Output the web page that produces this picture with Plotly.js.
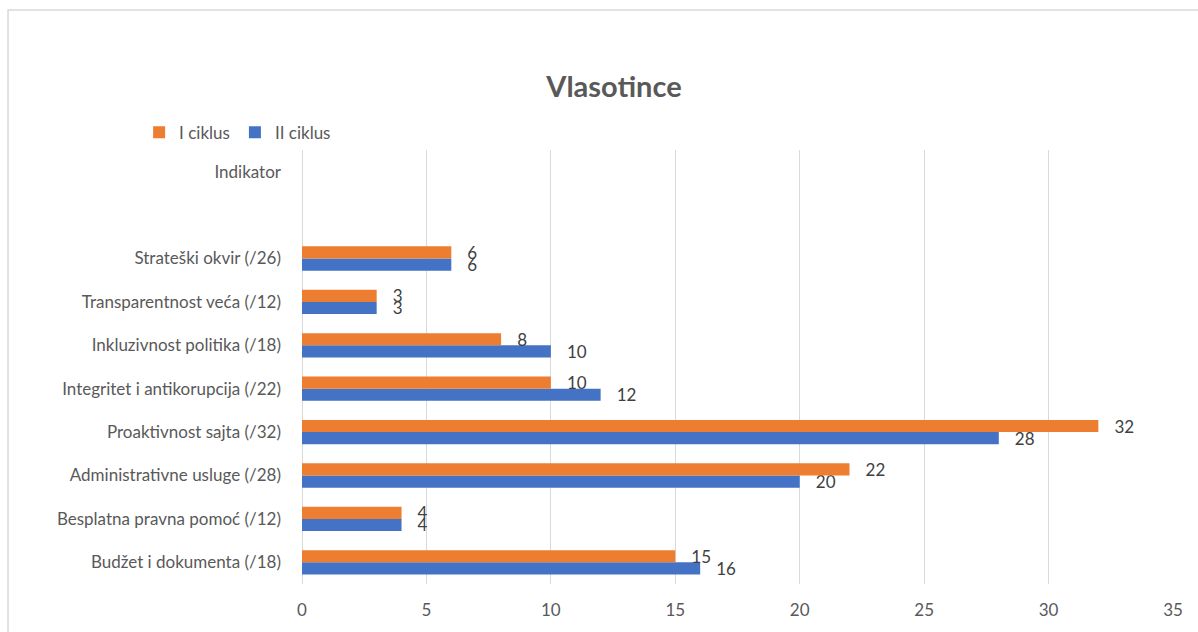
<!DOCTYPE html>
<html>
<head>
<meta charset="utf-8">
<script src="https://cdn.plot.ly/plotly-3.0.1.min.js"></script>
<style>
html,body{margin:0;padding:0;background:#fff;}
#chart{width:1198px;height:632px;}
</style>
</head>
<body>
<div id="chart"></div>
<script>
const categories = [
  "Budžet i dokumenta (/18)",
  "Besplatna pravna pomoć (/12)",
  "Administrativne usluge (/28)",
  "Proaktivnost sajta (/32)",
  "Integritet i antikorupcija (/22)",
  "Inkluzivnost politika (/18)",
  "Transparentnost veća (/12)",
  "Strateški okvir (/26)",
  " ",
  "Indikator"
];
const ciklus1 = [15, 4, 22, 32, 10, 8, 3, 6, null, null];
const ciklus2 = [16, 4, 20, 28, 12, 10, 3, 6, null, null];
const xTicks = [0, 5, 10, 15, 20, 25, 30, 35];

const FONT = "Lato, 'Open Sans', sans-serif";
const labelFont = {family: FONT, size: 17, color: "#404040"};
const pad = "\u00a0\u00a0\u00a0";

const traces = [
  {
    type: "bar", orientation: "h", name: "II ciklus",
    y: categories, x: ciklus2,
    marker: {color: "#4472C4"},
    text: ciklus2.map(v => v == null ? "" : pad + String(v)),
    textposition: "outside", textfont: labelFont, cliponaxis: false,
    constraintext: "none",
    legendrank: 2, hoverinfo: "x+y"
  },
  {
    type: "bar", orientation: "h", name: "I ciklus",
    y: categories, x: ciklus1,
    marker: {color: "#ED7D31"},
    text: ciklus1.map(v => v == null ? "" : pad + String(v)),
    textposition: "outside", textfont: labelFont, cliponaxis: false,
    constraintext: "none",
    legendrank: 1, hoverinfo: "x+y"
  }
];

const layout = {
  width: 1198, height: 632,
  margin: {l: 302, r: 25, t: 150, b: 48},
  paper_bgcolor: "#ffffff", plot_bgcolor: "#ffffff",
  font: {family: FONT, color: "#595959", size: 17},
  title: {
    text: "<b>Vlasotince</b>",
    x: 0.5125, xanchor: "center", xref: "container",
    y: 0.862, yanchor: "middle", yref: "container",
    font: {family: FONT, size: 29, color: "#595959"}
  },
  barmode: "group", bargap: 0.44, bargroupgap: 0,
  showlegend: true,
  legend: {
    orientation: "h", x: -0.187, xanchor: "left", y: 1.04, yanchor: "middle",
    font: {family: FONT, size: 17, color: "#595959"},
    itemwidth: 30, traceorder: "normal", bgcolor: "rgba(0,0,0,0)"
  },
  xaxis: {
    range: [0, 35], tickvals: xTicks, ticktext: xTicks.map(String),
    showgrid: true, gridcolor: "#d9d9d9", gridwidth: 1,
    zeroline: true, zerolinecolor: "#d9d9d9", zerolinewidth: 1,
    showline: false, ticks: "", ticklabelstandoff: 14,
    tickfont: {family: FONT, size: 17, color: "#595959"}, fixedrange: true
  },
  yaxis: {
    type: "category", categoryorder: "array", categoryarray: categories,
    range: [-0.5, categories.length - 0.5],
    showgrid: false, zeroline: false, showline: false, ticks: "",
    ticklabelstandoff: 20,
    tickfont: {family: FONT, size: 17, color: "#595959"}, fixedrange: true
  },
  shapes: [{
    type: "rect", xref: "paper", yref: "paper",
    x0: -0.3375, x1: 1.2, y0: -0.3, y1: 1.3226,
    line: {color: "#d9d9d9", width: 1.5}, fillcolor: "rgba(0,0,0,0)", layer: "below"
  }]
};

Plotly.newPlot("chart", traces, layout, {displayModeBar: false, staticPlot: true});
</script>
</body>
</html>
